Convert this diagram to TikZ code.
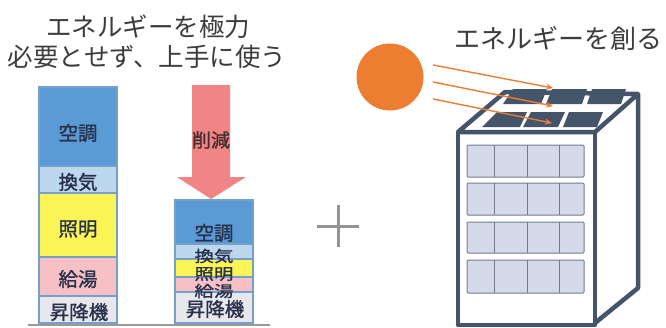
\documentclass[tikz,border=0pt]{standalone}
\usepackage{fontspec}
\usepackage{graphicx}
\setmainfont{Noto Sans CJK JP}
\newfontfamily\segfont[FakeBold=1.2]{Noto Sans CJK JP}
\usetikzlibrary{arrows.meta}

\definecolor{inkgray}{RGB}{60,60,60}
\definecolor{labelink}{RGB}{40,48,75}
\definecolor{segline}{RGB}{115,160,205}
\definecolor{acblue}{RGB}{91,155,213}
\definecolor{ventblue}{RGB}{189,215,238}
\definecolor{lightyel}{RGB}{250,245,85}
\definecolor{waterpink}{RGB}{246,192,196}
\definecolor{liftgray}{RGB}{232,232,236}
\definecolor{cutpink}{RGB}{241,133,133}
\definecolor{cutink}{RGB}{70,45,45}
\definecolor{sunorange}{RGB}{237,125,49}
\definecolor{frame}{RGB}{68,84,106}
\definecolor{glass}{RGB}{212,218,234}
\definecolor{glassline}{RGB}{115,125,142}

% squeezed label for the thin bands
\newcommand{\flatlabel}[1]{\scalebox{1}[0.8]{#1}}

\tikzset{
  heading/.style={font=\fontsize{25.5}{30}\selectfont, text=inkgray, inner sep=0pt},
  seglabel/.style={font=\segfont\fontsize{19.5}{24}\selectfont, text=labelink, inner sep=0pt},
  segbox/.style={draw=segline, line width=1.2pt},
  ray/.style={draw=sunorange, line width=1.4pt, -{Stealth[length=7pt,width=6pt]}},
  edge/.style={draw=frame, line width=4.5pt, line join=round},
  panel/.style={fill=frame},
  pane/.style={fill=glass, draw=glassline, line width=1pt, rounded corners=1pt},
  mullion/.style={draw=glassline, line width=1pt},
}

\begin{document}
\begin{tikzpicture}[x=1pt,y=-1pt]
\useasboundingbox (0,0) rectangle (666,327);

% headings
\node[heading] (h1) at (148,27) {エネルギーを極力};
\node[heading] (h2) at (147,57) {必要とせず、上手に使う};
\node[heading, font=\fontsize{26}{30}\selectfont] (h3) at (558,38) {エネルギーを創る};

% energy use before saving
\path[segbox, fill=acblue]    (39,87)  rectangle (117,166);
\path[segbox, fill=ventblue]  (39,166) rectangle (117,193);
\path[segbox, fill=lightyel]  (39,193) rectangle (117,257);
\path[segbox, fill=waterpink] (39,257) rectangle (117,296);
\path[segbox, fill=liftgray]  (39,296) rectangle (117,323);
\node[seglabel] (a1) at (78,133) {空調};
\node[seglabel] (a2) at (78,182) {換気};
\node[seglabel] (a3) at (78,229) {照明};
\node[seglabel] (a4) at (78,279) {給湯};
\node[seglabel] (a5) at (79,312) {昇降機};

% reduction arrow
\fill[cutpink] (192,85) -- (230,85) -- (230,177) -- (246,177) -- (211,199)
  -- (177,177) -- (192,177) -- cycle;
\node[seglabel, font=\segfont\fontsize{19}{22}\selectfont, text=cutink] (cut) at (211,140) {削減};

% energy use after saving
\path[segbox, fill=acblue]    (175,200) rectangle (253,244);
\path[segbox, fill=ventblue]  (175,244) rectangle (253,259);
\path[segbox, fill=lightyel]  (175,259) rectangle (253,277);
\path[segbox, fill=waterpink] (175,277) rectangle (253,292);
\path[segbox, fill=liftgray]  (175,292) rectangle (253,323);
\node[seglabel] (b1) at (214,233) {空調};
\node[seglabel] (b2) at (214,256) {\flatlabel{換気}};
\node[seglabel] (b3) at (214,274) {\flatlabel{照明}};
\node[seglabel] (b4) at (214,291) {\flatlabel{給湯}};
\node[seglabel] (b5) at (215,309) {昇降機};

% ground line
\coordinate (g1) at (28,325);
\coordinate (g2) at (270,325);
\draw[draw=black!40, line width=1.5pt] (g1) -- (g2);

% plus sign
\draw[draw=black!42, line width=3pt] (317,226) -- (359,226) (338,205) -- (338,247);

% sun and rays
\node[circle, fill=sunorange, minimum size=67pt, inner sep=0pt] (sun) at (390,77) {};
\coordinate (r1s) at (433,65);  \coordinate (r1e) at (553,88);
\coordinate (r2s) at (433,82);  \coordinate (r2e) at (553,106);
\coordinate (r3s) at (433,99);  \coordinate (r3e) at (552,123);

% building faces
\fill[white] (458,132) -- (505,92) -- (638,94) -- (638,288) -- (595,325)
  -- (458,325) -- cycle;
% roof outline
\draw[edge] (458,132) -- (505,92) -- (638,94) -- (595,132) -- cycle;
% front face
\draw[edge] (458,132) -- (458,325) -- (595,325) -- (595,132);
% side face
\draw[edge] (638,94) -- (638,288) -- (595,323);

% solar panels, back row
\fill[panel] (513,89) -- (547,89) -- (541,104) -- (503,104) -- cycle;
\fill[panel] (552,89) -- (587,89) -- (582,104) -- (546,104) -- cycle;
\fill[panel] (592,89) -- (626,89) -- (621,104) -- (587,104) -- cycle;
% solar panels, front row
\fill[panel] (497,112) -- (527,112) -- (520,127) -- (482,127) -- cycle;
\fill[panel] (531,112) -- (565,112) -- (558,127) -- (523,127) -- cycle;
\fill[panel] (569,112) -- (603,112) -- (597,127) -- (563,127) -- cycle;

% windows
\foreach \top/\bot in {145/177, 183/215, 222/253, 260/293} {
  \path[pane] (467,\top) rectangle (584,\bot);
  \draw[mullion] (494,\top) -- (494,\bot) (527,\top) -- (527,\bot) (559,\top) -- (559,\bot);
}

% sunlight onto the panels
\draw[ray] (r1s) -- (r1e);
\draw[ray] (r2s) -- (r2e);
\draw[ray] (r3s) -- (r3e);
\end{tikzpicture}
\end{document}
